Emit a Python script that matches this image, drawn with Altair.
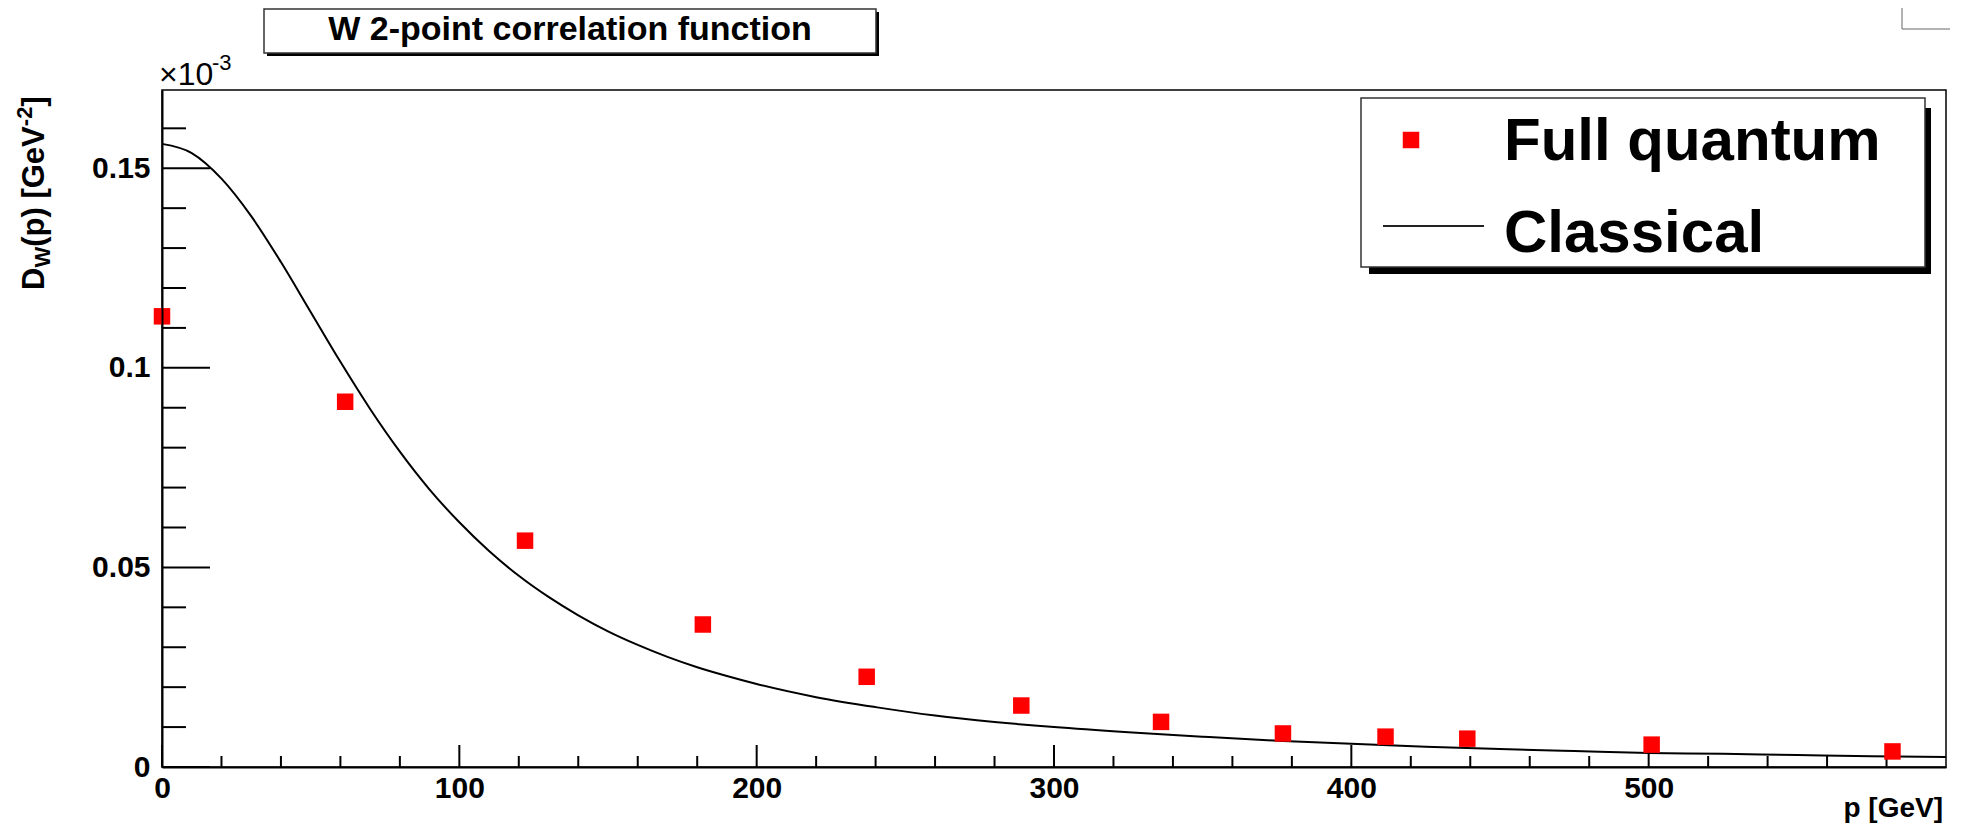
import altair as alt
import pandas as pd

# ---------------- data ----------------
classical_p = [0, 10, 20, 30, 40, 50, 60, 70, 80, 90, 100, 110, 120, 130, 140, 150,
               160, 170, 180, 190, 200, 220, 240, 260, 280, 300, 325, 350, 375, 400,
               425, 450, 475, 500, 525, 550, 575, 600]
classical_d = [0.1561, 0.1538, 0.1474, 0.1380, 0.1265, 0.1140, 0.1015, 0.0897, 0.0790,
               0.0695, 0.0613, 0.0541, 0.0479, 0.0426, 0.0380, 0.0340, 0.0306, 0.0276,
               0.0250, 0.0228, 0.0208, 0.0175, 0.0150, 0.0129, 0.0113, 0.0100, 0.0087,
               0.0076, 0.0066, 0.0058, 0.0051, 0.0045, 0.0040, 0.0035, 0.0033, 0.0030,
               0.0027, 0.0025]

quantum_p = [0, 61.6, 122.1, 181.9, 237, 289, 336, 377, 411.5, 439, 501, 582]
quantum_d = [0.1129, 0.0915, 0.0567, 0.0357, 0.0226, 0.0154, 0.0113, 0.0084,
             0.0076, 0.0071, 0.0056, 0.0039]

x_major = [0, 100, 200, 300, 400, 500]
x_minor = [20, 40, 60, 80, 120, 140, 160, 180, 220, 240, 260, 280, 320, 340, 360, 380,
           420, 440, 460, 480, 520, 540, 560, 580]
y_major = [0, 0.05, 0.1, 0.15]
y_minor = [0.01, 0.02, 0.03, 0.04, 0.06, 0.07, 0.08, 0.09, 0.11, 0.12, 0.13, 0.14, 0.16]

title_text = "W 2-point correlation function"
legend_labels = ["Full quantum", "Classical"]
x_title = "p [GeV]"

# ---------------- layout ----------------
W, H = 1784, 677
FONT = "Liberation Sans, Arial, Helvetica, sans-serif"

xscale = alt.Scale(domain=[0, 600], nice=False, zero=False)
yscale = alt.Scale(domain=[0, 0.1696], nice=False, zero=False)

AXIS_X = alt.Axis(values=x_major, format="d", ticks=False, tickSize=0, grid=False,
                  domain=True, domainColor="black", domainWidth=2, labelFont=FONT,
                  labelFontWeight="bold", labelFontSize=30, labelColor="black",
                  labelPadding=6, labelFlush=False, labelOverlap=False, title="", zindex=2)
AXIS_Y = alt.Axis(values=y_major, format=".2~f", ticks=False, tickSize=0, grid=False,
                  domain=True, domainColor="black", domainWidth=2, labelFont=FONT,
                  labelFontWeight="bold", labelFontSize=30, labelColor="black",
                  labelPadding=12, labelFlush=False, labelOverlap=False, title="", zindex=2)


def X(field):
    return alt.X(field, type="quantitative", scale=xscale, axis=AXIS_X)


def Y(field):
    return alt.Y(field, type="quantitative", scale=yscale, axis=AXIS_Y)


one = pd.DataFrame({"k": [0]})

df_cl = pd.DataFrame({"p": classical_p, "d": classical_d})
df_q = pd.DataFrame({"p": quantum_p, "d": quantum_d})

# ticks (pointing inwards, ROOT style)
ymaj = alt.Chart(pd.DataFrame({"v": y_major})).mark_rule(color="black", strokeWidth=2).encode(
    y=Y("v"), x=alt.value(0), x2=alt.value(48))
ymin = alt.Chart(pd.DataFrame({"v": y_minor})).mark_rule(color="black", strokeWidth=2).encode(
    y=Y("v"), x=alt.value(0), x2=alt.value(24))
xmaj = alt.Chart(pd.DataFrame({"v": x_major})).mark_rule(color="black", strokeWidth=2).encode(
    x=X("v"), y=alt.value(H), y2=alt.value(H - 22))
xmin = alt.Chart(pd.DataFrame({"v": x_minor})).mark_rule(color="black", strokeWidth=2).encode(
    x=X("v"), y=alt.value(H), y2=alt.value(H - 11))

line = alt.Chart(df_cl).mark_line(color="black", strokeWidth=2, interpolate="monotone").encode(
    x=X("p"), y=Y("d"))
pts = alt.Chart(df_q).mark_square(size=272, color="#ff0000", opacity=1).encode(
    x=X("p"), y=Y("d"))


def rect(x1, y1, x2, y2, fill, stroke=None, sw=0):
    kw = dict(fill=fill)
    if stroke:
        kw.update(stroke=stroke, strokeWidth=sw)
    return alt.Chart(one).mark_rect(**kw).encode(
        x=alt.value(x1), x2=alt.value(x2), y=alt.value(y1), y2=alt.value(y2))


def text(t, x, y, size, weight="bold", angle=0, align="left", color="black"):
    kw = dict(text=t, font=FONT, fontSize=size, fontWeight=weight, align=align,
              baseline="alphabetic", color=color)
    if angle:
        kw["angle"] = angle
    return alt.Chart(one).mark_text(**kw).encode(x=alt.value(x), y=alt.value(y))


# legend
leg_shadow = rect(1207, 18, 1769, 184, "black")
leg_box = rect(1199, 8, 1763, 177, "white", "#333333", 1.5)
leg_sq = alt.Chart(one).mark_square(size=272, color="#ff0000", opacity=1).encode(
    x=alt.value(1249), y=alt.value(50))
leg_line = alt.Chart(one).mark_rule(color="#222222", strokeWidth=2).encode(
    x=alt.value(1221), x2=alt.value(1322), y=alt.value(136))
leg_t1 = text(legend_labels[0], 1342, 70, 60)
leg_t2 = text(legend_labels[1], 1342, 162, 60)

# title box
tb_shadow = rect(105, -78, 717, -34, "black")
tb_box = rect(102, -81, 714, -37, "white", "#333333", 1.5)
tb_text = text(title_text, 408, -50, 34, align="center")

# x10^-3
exp1 = text("\u00d710", -3, -5, 32, weight="normal")
exp2 = text("-3", 50, -20, 22, weight="normal")

# y-axis title pieces (rotated)
yt1 = text("D", -118.5, 200, 31, angle=270)
yt2 = text("W", -112.5, 177.6, 22, angle=270)
yt3 = text("(p) [GeV", -118.5, 156.8, 31, angle=270)
yt4 = text("-2", -130.5, 36.2, 22, angle=270)
yt5 = text("]", -118.5, 16.6, 31, angle=270)

# x-axis title
xt = text(x_title, 1781, 727, 28, align="right")

# top-right corner box
corner = rect(1740, -90, 1800, -61, "white", "#666666", 1)

chart = alt.layer(
    ymin, ymaj, xmin, xmaj, line, pts,
    leg_shadow, leg_box, leg_sq, leg_line, leg_t1, leg_t2,
    tb_shadow, tb_box, tb_text, exp1, exp2,
    yt1, yt2, yt3, yt4, yt5, xt, corner,
).properties(
    width=W, height=H,
    padding={"left": 154, "top": 82, "right": 4, "bottom": 61},
    autosize=alt.AutoSizeParams(type="none"),
    background="white",
).configure_view(stroke="black", strokeWidth=1.5)

chart.save("out.html", embed_options={"renderer": "svg", "actions": False})
